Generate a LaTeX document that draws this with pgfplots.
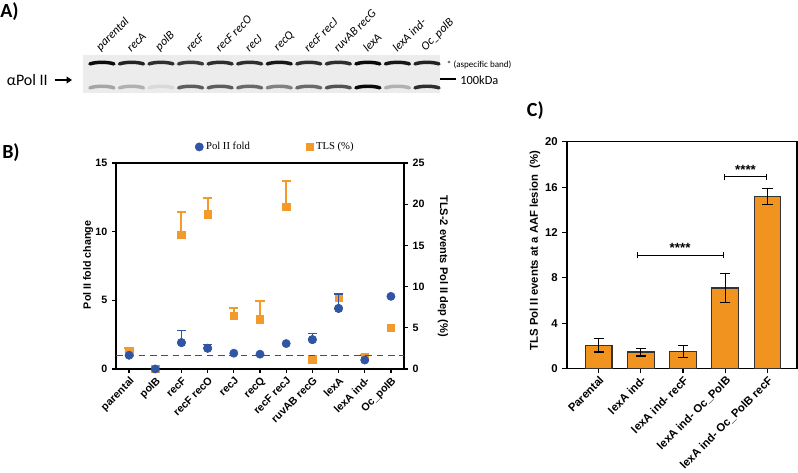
\documentclass[border=0pt]{standalone}
\usepackage{fontspec}
\setmainfont{Liberation Sans}
\newfontfamily\calibri{Carlito}
\newfontfamily\timesf{Liberation Serif}
\usepackage{pgfplots}
\usepackage{pgfplotstable}
\pgfplotsset{compat=1.18}
\usetikzlibrary{arrows.meta}

\definecolor{PolBlue}{HTML}{2F55A4}
\definecolor{TlsOrange}{HTML}{F39A2B}
\definecolor{BarOrange}{HTML}{F0931F}
\definecolor{DashBlue}{HTML}{3F44AA}
\definecolor{BlotBg}{HTML}{ECECEC}

% one gel band: a short, slightly arched stroke
\pgfdeclareplotmark{band}{%
  \pgfpathmoveto{\pgfqpoint{-9pt}{-0.7pt}}%
  \pgfpathcurveto{\pgfqpoint{-4pt}{0.9pt}}{\pgfqpoint{4pt}{0.9pt}}{\pgfqpoint{9pt}{-0.7pt}}%
  \pgfusepathqstroke}

\pgfplotsset{
  /pgf/number format/assume math mode=true,
  every tick/.style={black, line width=0.9pt},
  axis line style={line width=1pt},
}

% lane, band height, darkness
\pgfplotstableread{
x y i
0 0.79 0.95
1 0.79 0.85
2 0.79 0.80
3 0.79 0.75
4 0.79 0.80
5 0.79 0.80
6 0.79 0.90
7 0.79 0.80
8 0.79 0.80
9 0.79 0.95
10 0.79 0.90
11 0.79 0.85
0 0.16 0.30
1 0.16 0.25
2 0.16 0.08
3 0.16 0.60
4 0.16 0.60
5 0.16 0.55
6 0.16 0.45
7 0.16 0.55
8 0.16 0.65
9 0.16 0.95
10 0.16 0.25
11 0.16 0.80
}\blotdata

\pgfplotstableread{
x y
0 1.00
1 0.00
2 1.92
3 1.51
4 1.15
5 1.08
6 1.85
7 2.14
8 4.41
9 0.65
10 5.29
}\foldall

\pgfplotstableread{
x y e
2 1.92 0.91
3 1.51 0.29
7 2.14 0.46
8 4.41 1.05
}\folderr

\pgfplotstableread{
x y
0 2.0
1 0.0
2 16.3
3 18.8
4 6.46
5 6.06
6 19.7
7 1.2
8 8.7
9 1.4
10 5.0
}\tlsall

\pgfplotstableread{
x y e
0 2.0 0.6
2 16.3 2.7
3 18.8 1.9
4 6.46 0.9
5 6.06 2.2
6 19.7 3.1
7 1.2 0.4
8 8.7 0.35
9 1.4 0.25
}\tlserr

\pgfplotstableread{
x y e
0 2.05 0.6
1 1.45 0.35
2 1.50 0.5
3 7.10 1.3
4 15.2 0.7
}\bars

\begin{document}
\begin{tikzpicture}
\path[use as bounding box] (0,0) rectangle (598.5pt,354.75pt);

% ---------- A) blot ----------
\node[anchor=west, inner sep=0, font=\calibri\bfseries\fontsize{15}{17}\selectfont] at (0pt,346pt) {A)};
\begin{axis}[
  at={(62.25pt,285pt)}, anchor=south west,
  width=267.75pt, height=28.5pt, scale only axis,
  xmin=-0.64, xmax=11.44, ymin=0, ymax=1,
  axis line style={draw=none},
  axis background/.style={fill=BlotBg},
  ytick=\empty,
  xtick={0,...,11},
  xticklabels={parental,recA,polB,recF,recF recO,recJ,recQ,recF recJ,ruvAB recG,lexA,lexA ind-,Oc\_polB},
  xticklabel pos=right,
  major tick length=0pt,
  x tick label style={rotate=45, anchor=south west, inner sep=1pt,
    font=\calibri\itshape\fontsize{9}{10}\selectfont},
  colormap={blot}{color=(BlotBg) color=(black)},
  point meta min=0, point meta max=1,
]
\addplot[scatter, only marks, mark=band, scatter src=explicit,
  scatter/use mapped color={draw=mapped color},
  mark options={line width=2.6pt, line cap=round}]
  table[x=x, y=y, meta=i] {\blotdata};
\end{axis}
\node[anchor=west, inner sep=0, font=\calibri\fontsize{12}{14}\selectfont] at (5pt,294.75pt) {αPol II};
\draw[-{Triangle[length=4pt,width=5pt]}, line width=1.1pt] (41pt,294.75pt) -- (54pt,294.75pt);
\node[anchor=west, inner sep=0, font=\calibri\fontsize{6.8}{8}\selectfont] at (335pt,306pt) {* (aspecific band)};
\draw[line width=0.9pt] (330pt,295.5pt) -- (342pt,295.5pt);
\node[anchor=west, inner sep=0, font=\calibri\fontsize{9.3}{11}\selectfont] at (345pt,294.5pt) {100kDa};

% ---------- B) dual axis ----------
\node[anchor=west, inner sep=0, font=\calibri\bfseries\fontsize{15}{17}\selectfont] at (1.5pt,240pt) {B)};
\begin{axis}[
  at={(87pt,78pt)}, anchor=south west,
  width=216pt, height=154.5pt, scale only axis,
  xmin=-0.5, xmax=10.5, ymin=0, ymax=25,
  axis x line=none, axis y line*=right,
  ytick={0,5,...,25},
  tick align=outside, major tick length=3pt,
  tick label style={font=\bfseries\fontsize{8}{9}\selectfont},
  ylabel={TLS-2 events Pol II dep (\%)},
  ylabel style={at={(axis description cs:1.135,0.5)}, rotate=180, anchor=center,
    font=\bfseries\fontsize{8.3}{10}\selectfont},
]
\addplot[only marks, mark=square*, mark size=2.8pt, TlsOrange, forget plot,
  error bars/.cd, y dir=plus, y explicit,
  error bar style={draw=TlsOrange, line width=1.5pt},
  error mark options={rotate=90, mark size=3.5pt, line width=1.5pt, draw=TlsOrange}]
  table[x=x, y=y, y error=e] {\tlserr};
\addplot[only marks, mark=square*, mark size=2.8pt, TlsOrange] table[x=x, y=y] {\tlsall};
\end{axis}

\begin{axis}[
  at={(87pt,78pt)}, anchor=south west,
  width=216pt, height=154.5pt, scale only axis,
  xmin=-0.5, xmax=10.5, ymin=0, ymax=15,
  ytick={0,5,10,15},
  xtick={0,...,10},
  xticklabels={parental,polB,recF,recF recO,recJ,recQ,recF recJ,ruvAB recG,lexA,lexA ind-,Oc\_polB},
  xtick pos=left, ytick pos=left,
  tick align=outside, major tick length=3pt,
  tick label style={font=\bfseries\fontsize{8}{9}\selectfont},
  x tick label style={rotate=45, anchor=north east, inner sep=1.5pt},
  ylabel={Pol II fold change},
  ylabel style={at={(axis description cs:-0.097,0.505)}, anchor=center,
    font=\bfseries\fontsize{8}{10}\selectfont},
  legend columns=2,
  legend style={at={(0.26,1.078)}, anchor=west, draw=none, fill=none,
    font=\timesf\fontsize{8}{9}\selectfont,
    /tikz/every even column/.append style={column sep=40pt}},
]
\draw[DashBlue, line width=1pt, dash pattern=on 5pt off 3.5pt] (axis cs:-0.5,1) -- (axis cs:10.5,1);
\node[anchor=east, inner sep=1.5pt, text=DashBlue, font=\timesf\bfseries\fontsize{6}{7}\selectfont] at (axis cs:-0.5,1) {1};
\addplot[only marks, mark=*, mark size=3.1pt, PolBlue, forget plot,
  error bars/.cd, y dir=plus, y explicit,
  error bar style={draw=PolBlue, line width=0.8pt},
  error mark options={rotate=90, mark size=3.3pt, line width=0.8pt, draw=PolBlue}]
  table[x=x, y=y, y error=e] {\folderr};
\addplot[only marks, mark=*, mark size=3.1pt, PolBlue] table[x=x, y=y] {\foldall};
\addlegendentry{Pol II fold}
\addlegendimage{only marks, mark=square*, mark size=2.8pt, TlsOrange}
\addlegendentry{TLS (\%)}
\end{axis}

% ---------- C) bars ----------
\node[anchor=west, inner sep=0, font=\calibri\bfseries\fontsize{15}{17}\selectfont] at (395pt,272pt) {C)};
\begin{axis}[
  at={(425.25pt,78.4pt)}, anchor=south west,
  width=172.5pt, height=170pt, scale only axis,
  ybar, bar width=20pt,
  xmin=-0.75, xmax=4.7, ymin=0, ymax=20,
  ytick={0,4,...,20},
  xtick={0,...,4},
  xticklabels={Parental,lexA ind-,lexA ind- recF,lexA ind- Oc\_PolB,lexA ind- Oc\_PolB recF},
  xtick pos=left, ytick pos=left,
  tick align=outside, major tick length=3.5pt,
  tick label style={font=\bfseries\fontsize{8.5}{10}\selectfont},
  x tick label style={rotate=45, anchor=north east, inner sep=1pt,
    font=\bfseries\fontsize{8.5}{10}\selectfont},
  ylabel={TLS Pol II events at a AAF lesion\ \ (\%)},
  ylabel style={at={(axis description cs:-0.139,0.52)}, anchor=center,
    font=\bfseries\fontsize{8.5}{10}\selectfont},
]
\addplot[fill=BarOrange, draw=black!80, line width=0.8pt,
  error bars/.cd, y dir=both, y explicit,
  error bar style={draw=black, line width=0.8pt},
  error mark options={rotate=90, mark size=3.8pt, line width=0.8pt, draw=black}]
  table[x=x, y=y, y error=e] {\bars};
\draw[line width=0.8pt, {Bar[width=5pt]}-{Bar[width=5pt]}] (axis cs:0.9,10) -- (axis cs:2.97,10);
\node[anchor=south, inner sep=1pt, font=\bfseries\fontsize{10}{11}\selectfont] at (axis cs:1.93,10.1) {****};
\draw[line width=0.8pt, {Bar[width=5pt]}-{Bar[width=5pt]}] (axis cs:2.97,16.9) -- (axis cs:4.0,16.9);
\node[anchor=south, inner sep=1pt, font=\bfseries\fontsize{10}{11}\selectfont] at (axis cs:3.48,17.0) {****};
\end{axis}
\end{tikzpicture}
\end{document}
